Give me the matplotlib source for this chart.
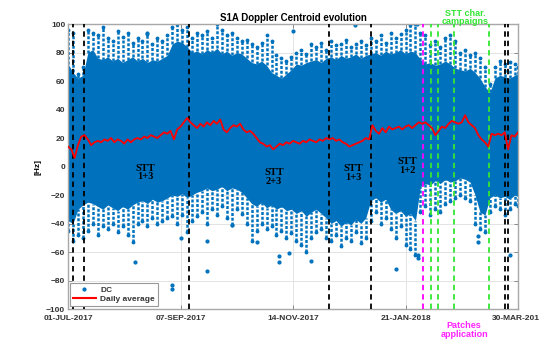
import numpy as np
import matplotlib
matplotlib.use('Agg')
import matplotlib.pyplot as plt

plt.rcParams['font.family'] = ['Liberation Sans', 'DejaVu Sans']

# time base: days since 01-JUL-2017
t0 = np.datetime64('2017-07-01')
t_end = np.datetime64('2018-03-30')

# DC cloud, sampled every 3 days (last sample at the end of the span)
env_days = list(range(0, 271, 3)) + [272]
core_top = [72, 66, 62, 64, 80, 82, 76, 75, 77, 74, 76, 73, 75, 77, 74, 76, 73, 75, 74, 76,
            78, 86, 88, 87, 84, 80, 81, 79, 82, 80, 83, 79, 81, 78, 80, 79, 76, 73, 72, 74,
            71, 66, 64, 62, 65, 68, 72, 71, 73, 74, 75, 73, 76, 77, 75, 78, 76, 77, 79, 76,
            78, 79, 80, 78, 81, 79, 80, 82, 79, 81, 80, 75, 72, 73, 71, 72, 74, 72, 69, 68,
            67, 69, 66, 62, 56, 52, 62, 64, 63, 62, 64, 65]
spike_top = [96, 94, 65, 70, 96, 94, 92, 98, 90, 88, 95, 91, 94, 87, 90, 88, 93, 86, 90, 88,
             92, 98, 100, 96, 98, 90, 94, 92, 95, 90, 100, 96, 92, 94, 90, 88, 89, 86, 84, 87,
             92, 88, 78, 76, 74, 77, 80, 82, 79, 86, 84, 87, 82, 88, 85, 86, 89, 84, 86, 88,
             85, 90, 88, 92, 87, 94, 90, 93, 96, 99, 100, 94, 92, 85, 88, 84, 90, 92, 88, 80,
             82, 78, 80, 76, 70, 58, 70, 74, 72, 73, 72, 70]
core_bot = [-38, -40, -30, -27, -25, -26, -28, -30, -27, -29, -31, -28, -30, -27, -25, -24, -26, -23, -25, -24,
            -22, -20, -21, -19, -22, -20, -18, -17, -15, -17, -16, -14, -17, -15, -16, -18, -22, -26, -28, -25,
            -29, -27, -30, -28, -31, -30, -33, -31, -35, -32, -30, -33, -36, -40, -38, -42, -39, -41, -37, -40,
            -36, -24, -22, -25, -23, -30, -33, -31, -35, -33, -38, -14, -12, -13, -10, -12, -9, -11, -10, -8,
            -9, -11, -20, -32, -34, -22, -20, -22, -21, -23, -20, -21]
spike_bot = [-45, -52, -48, -50, -45, -40, -48, -42, -44, -40, -46, -42, -48, -53, -40, -38, -42, -36, -40, -38,
             -36, -35, -40, -34, -46, -38, -35, -32, -40, -30, -34, -28, -36, -41, -30, -33, -40, -52, -45, -40,
             -44, -42, -48, -45, -50, -47, -52, -55, -60, -50, -46, -44, -50, -52, -48, -56, -50, -52, -46, -54,
             -50, -38, -32, -40, -36, -44, -50, -42, -55, -58, -62, -32, -28, -34, -30, -32, -26, -24, -22, -20,
             -22, -24, -40, -44, -46, -32, -28, -30, -34, -30, -26, -28]

# isolated DC samples away from the main cloud
out_days = [40.5, 62.8, 62.8, 68.0, 83.8, 83.8, 99.0, 114.0, 127.4, 127.4, 133.4, 147.0,
            198.3, 211.8, 211.8, 247.7, 247.7, 267.0, 47.5, 136.0, 173.5, 210.8]
out_hz = [-67, -83, -86, -50, -52, -73, -41, -53, -63, -67, -61, -66,
          -72, -64, -62, -49, -53, -62, 94, 95, 99, 100]

# daily average, every 2 days
avg_days = list(range(0, 273, 2))
avg_hz = [14, 12, 6, 15, 21, 22, 19, 15, 17, 18, 17, 19, 18, 20, 17, 19, 18, 16, 19, 17,
          19, 20, 19, 21, 20, 22, 21, 20, 22, 24, 23, 25, 19, 26, 28, 31, 34, 31, 29, 27,
          30, 28, 31, 29, 32, 30, 33, 26, 24, 27, 29, 28, 30, 26, 24, 25, 23, 20, 17, 16,
          14, 15, 12, 14, 16, 15, 17, 16, 18, 17, 16, 18, 17, 19, 18, 17, 19, 18, 20, 19,
          20, 18, 19, 17, 16, 14, 15, 16, 17, 18, 20, 19, 29, 25, 23, 27, 24, 28, 26, 27,
          28, 26, 28, 29, 27, 29, 31, 30, 31, 29, 27, 22, 25, 28, 27, 30, 32, 31, 30, 31,
          36, 31, 29, 27, 22, 19, 17, 14, 23, 22, 23, 22, 24, 12, 22, 21, 24]

# STT mode changes, patch uploads and characterisation campaigns
stt_lines = ['2017-07-03T20', '2017-07-10T17', '2017-09-12T00', '2017-12-05T20',
             '2017-12-31T00', '2018-03-21T20', '2018-03-23T20']
patch_lines = ['2018-01-31T10']
campaign_lines = ['2018-02-05T14', '2018-02-09T12', '2018-02-19T14', '2018-03-12T12']

tick_dates = ['2017-07-01', '2017-09-07', '2017-11-14', '2018-01-21', '2018-03-30']
tick_labels = ['01-JUL-2017', '07-SEP-2017', '14-NOV-2017', '21-JAN-2018', '30-MAR-2018']

stt_text = ['STT\n1+3', 'STT\n2+3', 'STT\n1+3', 'STT\n1+2']
stt_text_day = [46.9, 124.5, 172.3, 205.0]
stt_text_hz = [-4.2, -7.4, -4.6, 0.3]


def day(s):
    return (np.datetime64(s) - t0) / np.timedelta64(1, 'D')


blue = '#0072BD'
fig = plt.figure(figsize=(5.39, 3.41), dpi=100)
ax = fig.add_axes([0.1262, 0.0938, 0.8349, 0.8358])

# DC cloud: solid core, dotted spikes out to the extreme samples
ax.fill_between(env_days, core_bot, core_top, color=blue, lw=0, zorder=2)
ax.vlines(env_days, core_top, spike_top, colors=blue, linestyles=(0, (1.2, 0.7)), lw=1.8, zorder=2)
ax.vlines(env_days, spike_bot, core_bot, colors=blue, linestyles=(0, (1.2, 0.7)), lw=1.8, zorder=2)
ax.plot(env_days, spike_top, '.', color=blue, ms=3.5, zorder=2)
ax.plot(env_days, spike_bot, '.', color=blue, ms=3.5, zorder=2)
ax.plot(out_days, out_hz, '.', color=blue, ms=4, zorder=2)

# event markers
for s in stt_lines:
    ax.axvline(day(s), color='k', ls=(0, (3, 2.2)), lw=1.3, zorder=3)
for s in patch_lines:
    ax.axvline(day(s), color='#ff00ff', ls=(0, (3, 2.2)), lw=1.3, zorder=3)
for s in campaign_lines:
    ax.axvline(day(s), color='#33e633', ls=(0, (3, 2.2)), lw=1.3, zorder=3)

ax.plot(avg_days, avg_hz, color='#ff0000', lw=1.3, zorder=4)

for txt, xd, yh in zip(stt_text, stt_text_day, stt_text_hz):
    ax.text(xd, yh, txt, ha='center', va='center', fontsize=7.5, family='Liberation Serif',
            fontweight='bold', linespacing=0.9, zorder=5)

ax.set_xlim(0, day(str(t_end)))
ax.set_ylim(-100, 100)
ax.set_yticks(np.arange(-100, 101, 20))
ax.set_xticks([day(s) for s in tick_dates])
ax.set_xticklabels(tick_labels)
ax.grid(True, color='#e3e3e3', lw=0.7, zorder=0)
ax.set_axisbelow(True)
ax.tick_params(direction='in', length=3, width=0.7, top=True, right=True,
               labelsize=6, labelcolor='#333333', color='#888888', pad=2)
ax.tick_params(axis='x', pad=4)
for lab in ax.get_xticklabels() + ax.get_yticklabels():
    lab.set_fontweight('bold')
for sp in ax.spines.values():
    sp.set_color('#a8a8a8')
    sp.set_linewidth(1.0)

ax.set_ylabel('[Hz]', fontsize=6, fontweight='bold', labelpad=3)
ax.set_title('S1A Doppler Centroid evolution', fontsize=7, fontweight='bold', pad=2.5)

# legend handles
ax.plot([], [], '.', color=blue, ms=4, label='DC')
ax.plot([], [], color='#ff0000', lw=1.5, label='Daily average')
leg = ax.legend(loc='lower left', bbox_to_anchor=(0.005, 0.012), borderaxespad=0,
                fontsize=6, fancybox=False, framealpha=1, edgecolor='#999999',
                handlelength=2.8, borderpad=0.3, labelspacing=0.2, handletextpad=0.5)
leg.get_frame().set_linewidth(0.8)
for t in leg.get_texts():
    t.set_fontweight('bold')
    t.set_color('#333333')

fig.text(0.8627, 0.9487, 'STT char.\ncampaigns', ha='center', va='center', fontsize=6.5,
         fontweight='bold', color='#33e633', linespacing=0.95)
fig.text(0.861, 0.032, 'Patches\napplication', ha='center', va='center', fontsize=6.5,
         fontweight='bold', color='#ff22ff', linespacing=0.95)

fig.savefig('out.png', dpi=100, facecolor='white')
